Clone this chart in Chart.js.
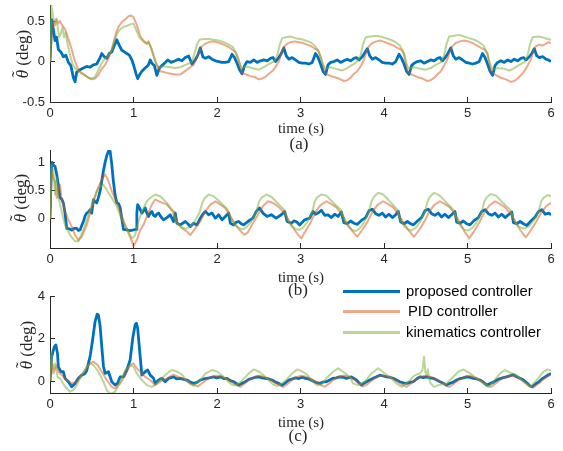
<!DOCTYPE html>
<html><head><meta charset="utf-8">
<script src="https://cdn.jsdelivr.net/npm/chart.js@4/dist/chart.umd.min.js"></script>
<style>
html,body{margin:0;padding:0;background:#fff;}
#wrap{position:relative;width:563px;height:451px;overflow:hidden;background:#fff;}
canvas{position:absolute;left:0;}
.t{position:absolute;font-family:"Liberation Serif",serif;color:#262626;white-space:nowrap;line-height:1;transform:translate(-50%,-50%);}
.yl{position:absolute;font-family:"Liberation Serif",serif;color:#262626;white-space:nowrap;line-height:1;font-size:17px;transform:translate(-50%,-50%) rotate(-90deg);}
.th{position:relative;display:inline-block;font-style:italic;}
.tl{position:absolute;left:0.08em;top:-0.28em;font-style:normal;}
.lg{position:absolute;left:343px;width:57px;}
.lt{position:absolute;left:406px;font-family:"Liberation Sans",Arial,sans-serif;font-size:14.8px;color:#000;line-height:1;transform:translateY(-50%);white-space:nowrap;}
</style></head><body>
<div id="wrap">
<canvas id="ca" width="563" height="132" style="top:-5px"></canvas>
<canvas id="cb" width="563" height="133" style="top:140px"></canvas>
<canvas id="cc" width="563" height="132" style="top:286px"></canvas>

<div class="yl" style="left:22px;top:54px"><span class="th">θ<span class="tl">˜</span></span> (deg)</div>
<div class="yl" style="left:20px;top:198px"><span class="th">θ<span class="tl">˜</span></span> (deg)</div>
<div class="yl" style="left:26px;top:345px"><span class="th">θ<span class="tl">˜</span></span> (deg)</div>

<div class="t" style="left:301px;top:128px;font-size:15px">time (s)</div>
<div class="t" style="left:299px;top:143px;font-size:17px">(a)</div>
<div class="t" style="left:301px;top:277px;font-size:15px">time (s)</div>
<div class="t" style="left:298px;top:289px;font-size:17px">(b)</div>
<div class="t" style="left:301px;top:422px;font-size:15px">time (s)</div>
<div class="t" style="left:298px;top:435px;font-size:17px">(c)</div>

<div class="lg" style="top:289.5px;height:3px;background:#0072BD"></div>
<div class="lg" style="top:310px;height:2.5px;background:rgba(217,83,25,0.5)"></div>
<div class="lg" style="top:331px;height:2.5px;background:rgba(119,172,48,0.5)"></div>
<div class="lt" style="top:291px">proposed controller</div>
<div class="lt" style="top:311px;left:408px">PID controller</div>
<div class="lt" style="top:332px">kinematics controller</div>
</div>
<script>
const SERIES_NAMES = ['proposed controller', 'PID controller', 'kinematics controller'];
const X_TICKS = [0, 1, 2, 3, 4, 5, 6];
const A_YTICKS = [-0.5, 0, 0.5];
const B_YTICKS = [0, 0.5, 1];
const C_YTICKS = [0, 2, 4];

// ---- (a) ----
const A_PROPOSED = [[0,0],[0.02,0.52],[0.04,0.4],[0.06,0.26],[0.08,0.3],[0.1,0.15],[0.13,0.12],[0.16,0.06],[0.19,0.08],[0.22,-0.01],[0.25,-0.05],[0.28,-0.2],[0.3,-0.25],[0.32,-0.13],[0.36,-0.1],[0.4,-0.08],[0.44,-0.06],[0.48,-0.07],[0.52,-0.04],[0.56,-0.03],[0.6,0.05],[0.62,0.1],[0.65,0.06],[0.68,0.04],[0.71,0.1],[0.74,0.12],[0.77,0.2],[0.8,0.27],[0.83,0.2],[0.86,0.14],[0.89,0.12],[0.92,0.1],[0.95,0.08],[0.98,0.02],[1.0,-0.04],[1.03,-0.15],[1.05,-0.21],[1.08,-0.15],[1.1,-0.12],[1.13,-0.09],[1.16,-0.06],[1.18,-0.04],[1.2,0.02],[1.22,-0.02],[1.25,-0.05],[1.28,-0.17],[1.31,-0.08],[1.34,-0.05],[1.38,-0.01],[1.41,0.02],
[1.45,-0.01],[1.5,0.01],[1.54,0.03],[1.58,0.01],[1.62,0.05],[1.66,0.07],[1.7,-0.03],[1.74,0.02],[1.77,0.08],[1.8,0.17],[1.83,0.06],[1.86,0.04],[1.9,0.06],[1.94,0.03],[1.98,0.01],[2.02,0.0],[2.06,-0.01],[2.1,-0.01],[2.14,0.0],[2.18,0.09],[2.21,0.05],[2.24,-0.02],[2.27,-0.1],[2.3,-0.15],[2.33,-0.05],[2.36,0.0],[2.4,-0.01],[2.44,0.02],[2.48,-0.01],[2.52,0.01],[2.56,0.02],[2.6,0.01],[2.64,0.04],[2.67,0.05],[2.7,0.0],[2.74,0.05],[2.77,0.1],[2.8,0.17],
[2.83,0.07],[2.86,0.03],[2.9,0.05],[2.94,0.02],[2.98,-0.01],[3.02,-0.02],[3.06,-0.02],[3.1,-0.03],[3.14,-0.01],[3.18,0.1],[3.21,0.05],[3.24,-0.03],[3.27,-0.12],[3.3,-0.16],[3.33,-0.04],[3.36,-0.01],[3.4,0.0],[3.44,0.02],[3.48,-0.01],[3.52,0.01],[3.56,0.03],[3.6,0.01],[3.64,0.04],[3.67,0.05],[3.7,0.02],[3.74,0.06],[3.77,0.11],[3.8,0.16],
[3.83,0.07],[3.86,0.03],[3.9,0.05],[3.94,0.02],[3.98,-0.01],[4.02,-0.02],[4.06,-0.02],[4.1,-0.03],[4.14,0.0],[4.18,0.09],[4.21,0.04],[4.24,-0.03],[4.27,-0.12],[4.3,-0.16],[4.33,-0.05],[4.36,-0.02],[4.4,0.0],[4.44,0.01],[4.48,-0.02],[4.52,0.0],[4.56,0.02],[4.6,0.01],[4.64,0.04],[4.67,0.05],[4.7,0.01],[4.74,0.06],[4.77,0.11],[4.8,0.17],
[4.83,0.07],[4.86,0.03],[4.9,0.05],[4.94,0.02],[4.98,-0.01],[5.02,-0.02],[5.06,-0.03],[5.1,-0.02],[5.14,0.0],[5.18,0.1],[5.21,0.05],[5.24,-0.03],[5.27,-0.12],[5.3,-0.17],[5.33,-0.05],[5.36,-0.01],[5.4,0.01],[5.44,-0.01],[5.48,0.02],[5.52,0.0],[5.56,0.03],[5.6,0.01],[5.64,0.04],[5.67,0.05],[5.7,0.02],[5.74,0.06],[5.77,0.1],[5.8,0.16],
[5.83,0.07],[5.86,0.05],[5.9,0.06],[5.94,0.03],[5.97,0.02],[6.0,0.0]];
const A_PID = [[0,0],[0.02,0.3],[0.04,0.5],[0.06,0.45],[0.08,0.53],[0.1,0.47],[0.12,0.5],[0.14,0.46],[0.16,0.43],[0.18,0.4],[0.2,0.34],[0.23,0.25],[0.26,0.15],[0.3,0.0],[0.34,-0.1],[0.38,-0.14],[0.42,-0.17],[0.46,-0.2],[0.5,-0.22],[0.54,-0.21],[0.58,-0.16],[0.62,-0.09],[0.66,-0.04],[0.7,0.04],[0.73,0.12],[0.76,0.23],[0.79,0.35],[0.82,0.43],[0.86,0.49],[0.9,0.52],[0.94,0.56],[0.97,0.57],[1.0,0.55],[1.02,0.5],[1.04,0.45],[1.06,0.38],[1.08,0.32],[1.11,0.27],[1.14,0.24],[1.16,0.22],[1.18,0.25],[1.2,0.2],[1.22,0.15],[1.25,0.05],[1.28,-0.05],[1.32,-0.12],[1.36,-0.13],[1.4,-0.14],[1.45,-0.15],[1.5,-0.16],[1.56,-0.16],[1.6,-0.13],[1.64,-0.1],[1.68,-0.07],[1.72,-0.04],[1.75,0.03],[1.78,0.11],[1.82,0.19],[1.86,0.22],[1.9,0.24],[1.95,0.25],[2.0,0.24],[2.05,0.22],[2.1,0.2],[2.14,0.18],[2.18,0.15],[2.22,0.12],[2.26,0.02],[2.3,-0.14],[2.35,-0.16],[2.4,-0.18],[2.45,-0.19],[2.5,-0.22],[2.54,-0.21],[2.58,-0.19],[2.62,-0.15],[2.66,-0.12],[2.7,-0.07],[2.74,0.0],[2.77,0.1],[2.8,0.18],[2.84,0.22],[2.88,0.24],[2.93,0.25],[2.98,0.24],[3.03,0.23],[3.08,0.21],[3.13,0.19],[3.17,0.16],[3.21,0.14],[3.25,0.04],[3.29,-0.14],[3.34,-0.17],[3.4,-0.19],[3.46,-0.21],[3.52,-0.24],[3.56,-0.23],[3.6,-0.2],[3.64,-0.15],[3.68,-0.12],[3.72,-0.06],[3.76,0.02],[3.79,0.12],[3.82,0.19],[3.86,0.23],[3.91,0.25],[3.96,0.26],[4.01,0.24],[4.06,0.22],[4.11,0.2],[4.16,0.17],[4.2,0.15],[4.24,0.1],[4.28,-0.12],[4.33,-0.16],[4.4,-0.19],[4.46,-0.21],[4.52,-0.24],[4.56,-0.23],[4.6,-0.2],[4.64,-0.16],[4.68,-0.12],[4.72,-0.05],[4.76,0.03],[4.79,0.13],[4.82,0.19],[4.86,0.23],[4.91,0.25],[4.96,0.26],[5.01,0.25],[5.06,0.23],[5.11,0.2],[5.16,0.17],[5.2,0.15],[5.24,0.1],[5.28,-0.12],[5.33,-0.16],[5.4,-0.2],[5.46,-0.22],[5.52,-0.25],[5.56,-0.24],[5.6,-0.21],[5.64,-0.17],[5.68,-0.12],[5.72,-0.05],[5.76,0.03],[5.79,0.13],[5.82,0.19],[5.86,0.21],[5.9,0.2],[5.94,0.22],[5.97,0.24],[6.0,0.23]];
const A_KIN = [[0,0],[0.015,0.7],[0.03,0.6],[0.05,0.48],[0.07,0.52],[0.09,0.44],[0.11,0.3],[0.13,0.35],[0.15,0.42],[0.17,0.3],[0.19,0.36],[0.21,0.22],[0.24,0.08],[0.27,-0.03],[0.3,-0.08],[0.34,-0.12],[0.38,-0.15],[0.42,-0.17],[0.46,-0.2],[0.5,-0.21],[0.54,-0.19],[0.58,-0.1],[0.62,-0.02],[0.66,0.04],[0.7,0.08],[0.74,0.14],[0.77,0.25],[0.8,0.34],[0.84,0.4],[0.88,0.43],[0.92,0.44],[0.96,0.46],[1.0,0.47],[1.02,0.42],[1.04,0.37],[1.07,0.3],[1.1,0.27],[1.13,0.24],[1.16,0.22],[1.18,0.24],[1.2,0.19],[1.23,0.1],[1.26,0.0],[1.3,-0.07],[1.34,-0.06],[1.38,-0.06],[1.44,-0.07],[1.5,-0.08],[1.56,-0.07],[1.62,-0.04],[1.67,-0.02],[1.7,0.0],[1.73,0.1],[1.76,0.21],[1.79,0.27],[1.84,0.28],[1.9,0.28],[1.96,0.27],[2.02,0.26],[2.08,0.24],[2.14,0.21],[2.19,0.18],[2.23,0.1],[2.27,-0.02],[2.3,-0.08],[2.35,-0.06],[2.42,-0.08],[2.5,-0.1],[2.56,-0.07],[2.62,-0.03],[2.68,0.0],[2.72,0.07],[2.75,0.2],[2.78,0.29],[2.83,0.3],[2.88,0.31],[2.94,0.29],[3.0,0.28],[3.06,0.26],[3.12,0.24],[3.17,0.2],[3.22,0.12],[3.26,-0.02],[3.3,-0.09],[3.36,-0.07],[3.42,-0.09],[3.5,-0.11],[3.56,-0.08],[3.62,-0.04],[3.67,-0.01],[3.72,0.08],[3.75,0.22],[3.78,0.3],[3.84,0.31],[3.9,0.32],[3.96,0.31],[4.02,0.29],[4.08,0.27],[4.14,0.24],[4.19,0.2],[4.23,0.12],[4.27,-0.03],[4.3,-0.09],[4.36,-0.07],[4.44,-0.09],[4.5,-0.1],[4.56,-0.08],[4.62,-0.04],[4.68,-0.01],[4.72,0.08],[4.75,0.22],[4.78,0.31],[4.84,0.32],[4.9,0.33],[4.96,0.31],[5.02,0.29],[5.08,0.27],[5.14,0.24],[5.19,0.2],[5.23,0.12],[5.27,-0.03],[5.3,-0.1],[5.36,-0.08],[5.44,-0.09],[5.5,-0.11],[5.56,-0.08],[5.62,-0.04],[5.68,-0.01],[5.72,0.08],[5.75,0.22],[5.78,0.3],[5.84,0.31],[5.9,0.3],[5.96,0.28],[6.0,0.27]];

// ---- (b) ----
const B_PROPOSED = [[0,0],[0.015,0.85],[0.025,1.0],[0.04,0.95],[0.06,0.93],[0.08,0.79],[0.1,0.6],[0.12,0.37],[0.14,0.35],[0.16,0.28],[0.18,0.1],[0.2,-0.17],[0.23,-0.18],[0.26,-0.2],[0.29,-0.17],[0.32,-0.17],[0.34,-0.21],[0.36,-0.2],[0.38,-0.12],[0.4,-0.05],[0.42,0.05],[0.44,0.1],[0.46,0.12],[0.48,0.16],[0.5,0.1],[0.52,0.34],[0.54,0.3],[0.56,0.28],[0.58,0.38],[0.6,0.49],[0.62,0.67],[0.64,0.85],[0.66,1.0],[0.68,1.12],[0.7,1.2],[0.72,1.2],[0.74,0.96],[0.76,0.65],[0.78,0.42],[0.8,0.28],[0.82,0.27],[0.84,0.2],[0.86,0.0],[0.88,-0.19],[0.92,-0.2],[0.96,-0.21],[1.0,-0.2],[1.03,-0.19],[1.04,0.1],[1.05,0.25],[1.07,0.2],[1.1,0.1],[1.12,0.14],[1.14,0.19],[1.16,0.1],[1.18,0.04],[1.2,0.1],[1.22,0.13],[1.24,0.06],[1.26,0.04],[1.28,0.08],[1.3,0.1],[1.33,0.03],[1.36,-0.02],[1.4,0.02],[1.44,0.07],[1.48,-0.05],[1.5,0.1],[1.52,-0.08],[1.56,-0.11],[1.62,-0.05],[1.65,-0.09],[1.68,-0.14],[1.72,-0.08],[1.76,-0.11],[1.8,0.01],[1.83,0.08],[1.86,0.13],[1.9,0.07],[1.94,0.1],[1.98,0.01],[2.02,0.07],[2.06,-0.02],[2.1,0.04],[2.14,0.1],
[2.16,-0.08],[2.2,-0.11],[2.23,-0.06],[2.26,-0.05],[2.29,-0.09],[2.32,-0.11],[2.37,-0.05],[2.43,0.01],[2.47,0.13],[2.51,0.19],[2.55,0.1],[2.6,0.04],[2.65,0.07],[2.71,0.01],[2.77,0.07],[2.81,0.13],
[2.84,-0.05],[2.89,-0.08],[2.92,-0.04],[2.95,-0.05],[2.99,-0.11],[3.05,-0.02],[3.11,0.01],[3.15,0.13],[3.18,0.08],[3.21,0.1],[3.25,0.15],[3.29,0.06],[3.33,0.07],[3.37,0.02],[3.41,0.08],[3.45,0.04],[3.49,0.12],
[3.52,-0.07],[3.56,-0.09],[3.6,-0.04],[3.64,-0.08],[3.68,-0.1],[3.73,-0.03],[3.78,0.02],[3.82,0.14],[3.86,0.17],[3.9,0.09],[3.94,0.06],[3.98,0.1],[4.02,0.03],[4.06,0.08],[4.1,0.02],[4.14,0.07],[4.17,0.13],
[4.2,-0.06],[4.24,-0.09],[4.28,-0.05],[4.31,-0.08],[4.35,-0.11],[4.4,-0.04],[4.45,0.02],[4.49,0.14],[4.53,0.17],[4.57,0.09],[4.61,0.06],[4.65,0.1],[4.69,0.03],[4.73,0.08],[4.77,0.02],[4.81,0.07],[4.85,0.13],
[4.87,-0.06],[4.91,-0.08],[4.95,-0.04],[4.99,-0.09],[5.03,-0.11],[5.08,-0.03],[5.13,0.02],[5.17,0.13],[5.21,0.16],[5.25,0.09],[5.29,0.06],[5.33,0.1],[5.37,0.03],[5.41,0.08],[5.45,0.02],[5.49,0.07],[5.53,0.12],
[5.55,-0.07],[5.59,-0.09],[5.63,-0.05],[5.67,-0.09],[5.71,-0.12],[5.76,-0.04],[5.81,0.03],[5.85,0.13],[5.89,0.16],[5.93,0.08],[5.97,0.1],[6.0,0.07]];
const B_PID = [[0,0],[0.02,0.85],[0.04,0.72],[0.06,0.67],[0.08,0.37],[0.1,0.55],[0.12,0.6],[0.14,0.31],[0.16,0.25],[0.18,0.13],[0.22,-0.02],[0.26,-0.14],[0.3,-0.29],[0.34,-0.38],[0.38,-0.32],[0.44,-0.11],[0.5,0.19],[0.56,0.49],[0.62,0.7],[0.66,0.79],[0.7,0.67],[0.74,0.49],[0.8,0.28],[0.84,0.13],[0.9,-0.11],[0.94,-0.26],[0.98,-0.4],[1.0,-0.49],[1.04,-0.38],[1.08,-0.2],[1.12,-0.11],[1.16,0.04],[1.22,0.25],[1.26,0.34],[1.32,0.3],[1.4,0.25],[1.45,0.16],[1.49,0.12],
[1.52,-0.05],[1.58,-0.17],[1.64,-0.23],[1.68,-0.29],[1.74,-0.17],[1.8,-0.05],[1.86,0.13],[1.92,0.25],[1.98,0.31],[2.04,0.25],[2.1,0.19],[2.15,0.07],
[2.21,-0.08],[2.27,-0.2],[2.33,-0.29],[2.37,-0.24],[2.43,-0.08],[2.49,0.07],[2.55,0.22],[2.61,0.31],[2.67,0.28],[2.73,0.22],[2.79,0.13],[2.83,0.05],
[2.88,-0.08],[2.93,-0.2],[2.98,-0.3],[3.01,-0.35],[3.06,-0.22],[3.12,-0.07],[3.18,0.12],[3.24,0.24],[3.31,0.31],[3.37,0.26],[3.43,0.2],[3.5,0.07],
[3.55,-0.06],[3.61,-0.2],[3.65,-0.27],[3.68,-0.32],[3.74,-0.2],[3.8,-0.06],[3.86,0.12],[3.92,0.24],[3.99,0.31],[4.05,0.26],[4.11,0.2],[4.17,0.08],
[4.23,-0.06],[4.29,-0.2],[4.33,-0.27],[4.36,-0.32],[4.42,-0.2],[4.48,-0.06],[4.54,0.12],[4.6,0.24],[4.67,0.31],[4.73,0.26],[4.79,0.2],[4.85,0.08],
[4.91,-0.07],[4.96,-0.22],[5.0,-0.3],[5.02,-0.35],[5.08,-0.22],[5.14,-0.07],[5.2,0.11],[5.26,0.23],[5.33,0.31],[5.39,0.26],[5.45,0.2],[5.52,0.08],
[5.58,-0.07],[5.63,-0.2],[5.67,-0.28],[5.7,-0.33],[5.76,-0.2],[5.82,-0.06],[5.88,0.1],[5.94,0.22],[6.0,0.28]];
const B_KIN = [[0,0],[0.02,0.96],[0.04,0.85],[0.06,0.43],[0.08,0.73],[0.1,0.37],[0.14,0.13],[0.18,-0.11],[0.24,-0.29],[0.3,-0.4],[0.34,-0.4],[0.4,-0.2],[0.46,0.07],[0.52,0.34],[0.58,0.55],[0.64,0.6],[0.68,0.51],[0.74,0.37],[0.8,0.22],[0.86,-0.02],[0.92,-0.17],[0.98,-0.35],[1.02,-0.29],[1.06,-0.05],[1.1,0.13],[1.16,0.31],[1.2,0.37],[1.26,0.43],[1.32,0.4],[1.4,0.28],[1.46,0.16],
[1.5,-0.02],[1.54,-0.11],[1.59,-0.16],[1.63,-0.18],[1.68,-0.14],[1.73,-0.05],[1.79,0.1],[1.82,0.27],[1.85,0.36],[1.9,0.43],[1.96,0.4],[2.02,0.32],[2.08,0.23],[2.13,0.15],
[2.18,-0.03],[2.22,-0.12],[2.27,-0.17],[2.31,-0.19],[2.36,-0.14],[2.41,-0.05],[2.47,0.12],[2.5,0.29],[2.53,0.37],[2.59,0.43],[2.65,0.39],[2.71,0.3],[2.77,0.21],[2.81,0.15],
[2.85,-0.03],[2.89,-0.13],[2.94,-0.18],[2.98,-0.2],[3.03,-0.16],[3.08,-0.06],[3.14,0.12],[3.17,0.3],[3.2,0.38],[3.25,0.43],[3.31,0.41],[3.37,0.32],[3.43,0.23],[3.48,0.16],
[3.53,-0.04],[3.57,-0.14],[3.62,-0.2],[3.66,-0.22],[3.71,-0.17],[3.76,-0.07],[3.82,0.12],[3.85,0.31],[3.88,0.39],[3.93,0.46],[3.99,0.43],[4.05,0.34],[4.11,0.24],[4.16,0.16],
[4.2,-0.03],[4.24,-0.13],[4.29,-0.19],[4.33,-0.21],[4.38,-0.16],[4.43,-0.06],[4.49,0.12],[4.52,0.3],[4.55,0.39],[4.6,0.46],[4.66,0.42],[4.72,0.33],[4.78,0.24],[4.83,0.16],
[4.88,-0.04],[4.92,-0.14],[4.97,-0.2],[5.01,-0.21],[5.06,-0.16],[5.11,-0.06],[5.17,0.12],[5.2,0.3],[5.23,0.38],[5.28,0.44],[5.34,0.41],[5.4,0.32],[5.46,0.23],[5.51,0.16],
[5.56,-0.03],[5.6,-0.12],[5.65,-0.17],[5.69,-0.17],[5.74,-0.13],[5.79,-0.04],[5.85,0.12],[5.88,0.3],[5.91,0.37],[5.96,0.42],[6.0,0.4]];

// ---- (c) ----
const C_PROPOSED = [[0,0],[0.02,1.15],[0.05,1.6],[0.07,1.7],[0.09,1.3],[0.1,0.67],[0.13,0.44],[0.16,0.44],[0.18,0.13],[0.22,-0.03],[0.26,-0.27],[0.3,-0.11],[0.34,0.13],[0.38,0.28],[0.42,0.36],[0.44,0.5],[0.46,0.83],[0.48,1.15],[0.51,1.93],[0.54,2.8],[0.565,3.15],[0.58,3.1],[0.6,2.6],[0.62,1.62],[0.64,0.7],[0.66,0.36],[0.7,0.44],[0.74,-0.03],[0.78,-0.19],[0.81,-0.1],[0.84,0.2],[0.88,0.2],[0.92,0.52],[0.96,0.99],[0.99,2.0],[1.02,2.65],[1.035,2.72],[1.05,2.48],[1.08,1.15],[1.1,0.28],[1.14,0.44],[1.17,0.52],[1.2,0.28],[1.24,0.13],[1.26,-0.11],[1.3,0.05],[1.34,0.13],[1.38,-0.03],[1.42,0.13],
[1.48,0.2],[1.52,0.1],[1.56,0.13],[1.6,0.08],[1.64,0.05],[1.68,-0.05],[1.72,-0.11],[1.76,-0.06],[1.8,0.05],[1.84,0.1],[1.88,0.13],[1.92,0.16],[1.96,0.2],[2.0,0.15],[2.04,0.2],[2.08,0.12],[2.12,0.13],[2.16,0.02],[2.2,-0.03],[2.26,-0.19],[2.3,-0.1],[2.34,-0.03],[2.38,0.08],[2.42,0.13],[2.46,0.18],[2.5,0.2],[2.54,0.15],[2.58,0.13],[2.62,0.1],[2.66,0.05],[2.7,-0.05],[2.74,-0.11],[2.78,-0.19],[2.82,-0.08],[2.86,0.05],[2.9,0.1],[2.94,0.15],[2.98,0.12],[3.02,0.18],[3.06,0.13],[3.1,0.1],[3.14,0.02],[3.18,-0.06],[3.23,-0.11],[3.27,-0.05],[3.31,-0.03],[3.35,0.05],[3.39,0.13],[3.43,0.15],[3.47,0.2],[3.51,0.18],[3.55,0.13],[3.61,0.2],[3.67,0.05],[3.7,-0.08],[3.73,-0.19],[3.76,-0.1],[3.79,-0.03],[3.83,0.05],[3.87,0.13],[3.91,0.2],[3.95,0.28],[3.99,0.24],[4.03,0.2],[4.07,0.18],[4.11,0.13],[4.15,0.05],[4.19,-0.03],[4.23,-0.08],[4.27,-0.11],[4.31,-0.06],[4.35,-0.03],[4.39,0.1],[4.43,0.2],[4.47,0.16],[4.51,0.2],[4.55,0.15],[4.59,0.13],[4.63,0.05],[4.67,-0.03],[4.71,-0.1],[4.75,-0.19],[4.79,-0.1],[4.83,-0.05],[4.87,0.05],[4.91,0.12],[4.95,0.15],[4.99,0.2],[5.03,0.17],[5.07,0.13],[5.11,0.1],[5.15,0.05],[5.19,-0.05],[5.23,-0.19],[5.27,-0.12],[5.31,-0.05],[5.35,0.05],[5.39,0.12],[5.43,0.16],[5.47,0.2],[5.51,0.25],[5.55,0.3],[5.59,0.2],[5.63,0.13],[5.67,0.05],[5.71,-0.08],[5.74,-0.2],[5.77,-0.27],[5.81,-0.15],[5.85,-0.05],[5.89,0.1],[5.93,0.2],[5.97,0.3],[6.0,0.36]];
const C_PID = [[0,0],[0.02,1.0],[0.04,0.36],[0.06,0.6],[0.08,0.75],[0.1,0.44],[0.14,0.28],[0.2,0.05],[0.26,-0.11],[0.32,-0.03],[0.36,0.2],[0.42,0.52],[0.48,0.83],[0.52,0.91],[0.57,0.75],[0.62,0.44],[0.68,0.05],[0.74,-0.27],[0.78,-0.35],[0.84,-0.11],[0.9,0.28],[0.96,0.75],[1.0,0.83],[1.04,0.6],[1.08,0.44],[1.14,0.2],[1.2,0.05],[1.26,-0.19],[1.32,-0.03],[1.4,0.13],
[1.48,0.3],[1.54,0.2],[1.6,0.1],[1.66,-0.05],[1.72,-0.2],[1.77,-0.25],[1.82,-0.1],[1.88,0.08],[1.94,0.2],[2.0,0.25],[2.06,0.2],[2.12,0.1],[2.18,-0.05],[2.24,-0.2],[2.28,-0.27],[2.33,-0.12],[2.38,0.05],[2.44,0.18],[2.5,0.25],[2.56,0.2],[2.62,0.12],[2.68,-0.03],[2.74,-0.18],[2.79,-0.28],[2.84,-0.15],[2.89,0.02],[2.95,0.18],[3.01,0.25],[3.07,0.2],[3.13,0.1],[3.19,-0.05],[3.25,-0.2],[3.29,-0.27],[3.34,-0.12],[3.4,0.08],[3.46,0.2],[3.52,0.26],[3.58,0.2],[3.64,0.08],[3.7,-0.1],[3.75,-0.25],[3.8,-0.15],[3.86,0.05],[3.92,0.2],[3.98,0.27],[4.04,0.22],[4.1,0.12],[4.16,-0.02],[4.22,-0.18],[4.27,-0.27],[4.32,-0.12],[4.38,0.05],[4.44,0.2],[4.5,0.26],[4.56,0.2],[4.62,0.1],[4.68,-0.05],[4.74,-0.2],[4.78,-0.28],[4.83,-0.14],[4.89,0.04],[4.95,0.18],[5.01,0.25],[5.07,0.2],[5.13,0.1],[5.19,-0.05],[5.24,-0.22],[5.28,-0.28],[5.33,-0.13],[5.39,0.05],[5.45,0.2],[5.51,0.26],[5.57,0.2],[5.63,0.1],[5.69,-0.07],[5.75,-0.25],[5.79,-0.3],[5.84,-0.15],[5.9,0.05],[5.96,0.22],[6.0,0.3]];
const C_KIN = [[0,0],[0.015,1.38],[0.03,0.52],[0.06,0.83],[0.09,0.2],[0.12,0.13],[0.18,-0.27],[0.24,-0.5],[0.28,-0.42],[0.32,-0.19],[0.38,0.28],[0.44,0.67],[0.48,0.83],[0.52,0.75],[0.58,0.44],[0.64,-0.03],[0.68,-0.42],[0.72,-0.6],[0.78,-0.5],[0.84,-0.03],[0.9,0.52],[0.96,0.75],[1.0,0.67],[1.04,0.36],[1.1,0.05],[1.16,-0.19],[1.22,-0.27],[1.28,-0.11],[1.34,0.13],[1.4,0.36],[1.46,0.52],
[1.52,0.45],[1.58,0.3],[1.64,0.0],[1.68,-0.15],[1.72,-0.19],[1.76,-0.1],[1.8,0.05],[1.86,0.35],[1.94,0.52],[2.0,0.45],[2.08,0.2],[2.14,-0.05],[2.18,-0.17],[2.22,-0.2],[2.28,-0.05],[2.34,0.2],[2.38,0.36],[2.44,0.55],[2.5,0.45],[2.58,0.2],[2.64,-0.05],[2.68,-0.17],[2.72,-0.23],[2.78,-0.1],[2.84,0.1],[2.9,0.36],[2.96,0.55],[3.02,0.45],[3.08,0.3],[3.14,0.0],[3.2,-0.2],[3.25,-0.15],[3.31,0.13],[3.39,0.44],[3.45,0.6],[3.51,0.44],[3.59,0.2],[3.63,-0.11],[3.69,-0.19],[3.77,-0.03],[3.85,0.36],[3.93,0.6],[4.01,0.36],[4.09,0.13],[4.15,-0.11],[4.21,-0.27],[4.29,-0.03],[4.37,0.28],[4.43,0.36],[4.46,0.5],[4.48,1.15],[4.495,0.4],[4.51,0.3],[4.525,0.55],[4.54,0.1],[4.56,-0.11],[4.6,-0.27],[4.65,-0.19],[4.75,-0.11],[4.83,0.2],[4.89,0.44],[4.95,0.55],[5.03,0.36],[5.11,0.13],[5.19,-0.11],[5.25,-0.27],[5.31,-0.03],[5.39,0.36],[5.45,0.52],[5.53,0.36],[5.59,0.28],[5.67,-0.03],[5.75,-0.27],[5.83,0.05],[5.91,0.44],[5.96,0.55],[6.0,0.5]];

const COLORS = ['#0072BD', 'rgba(217,83,25,0.5)', 'rgba(119,172,48,0.5)'];
const WIDTHS = [2.8, 2, 2];
const AXIS_COLOR = '#262626';

function pts(arr){ return arr.map(p => ({x: p[0], y: p[1]})); }

function makeChart(id, yMin, yMax, yTicks, sets){
  const tickFont = {family: '"Liberation Sans", Arial, sans-serif', size: 13};
  new Chart(document.getElementById(id), {
    type: 'line',
    data: {
      datasets: sets.map((s, i) => ({
        label: SERIES_NAMES[i],
        data: pts(s),
        borderColor: COLORS[i],
        borderWidth: WIDTHS[i],
        pointRadius: 0,
        tension: 0,
        fill: false,
        borderJoinStyle: 'round',
        order: 3 - i
      }))
    },
    options: {
      responsive: false,
      animation: false,
      devicePixelRatio: 1,
      layout: {padding: {left: 0, right: 12, top: 10, bottom: 0}},
      plugins: {legend: {display: false}, tooltip: {enabled: false}},
      scales: {
        x: {
          type: 'linear', min: 0, max: 6,
          afterBuildTicks: s => { s.ticks = X_TICKS.map(v => ({value: v})); },
          afterFit: s => { s.height = 25; s.paddingLeft = 0; s.paddingRight = 0; },
          grid: {drawOnChartArea: false, drawTicks: true, tickLength: -5, color: AXIS_COLOR, lineWidth: 1},
          border: {display: true, color: AXIS_COLOR, width: 1},
          ticks: {padding: 9, font: tickFont, color: AXIS_COLOR, autoSkip: false, maxRotation: 0, callback: v => String(v)}
        },
        y: {
          type: 'linear', min: yMin, max: yMax,
          afterBuildTicks: s => { s.ticks = yTicks.map(v => ({value: v})); },
          afterFit: s => { s.width = 50; s.paddingTop = 0; s.paddingBottom = 0; },
          grid: {drawOnChartArea: false, drawTicks: true, tickLength: -5, color: AXIS_COLOR, lineWidth: 1},
          border: {display: true, color: AXIS_COLOR, width: 1},
          ticks: {padding: 10, font: tickFont, color: AXIS_COLOR, autoSkip: false, callback: v => String(v)}
        }
      }
    }
  });
}

makeChart('ca', -0.5, 0.7, A_YTICKS, [A_PROPOSED, A_PID, A_KIN]);
makeChart('cb', -0.52, 1.22, B_YTICKS, [B_PROPOSED, B_PID, B_KIN]);
makeChart('cc', -0.56, 4, C_YTICKS, [C_PROPOSED, C_PID, C_KIN]);
</script>
</body></html>
